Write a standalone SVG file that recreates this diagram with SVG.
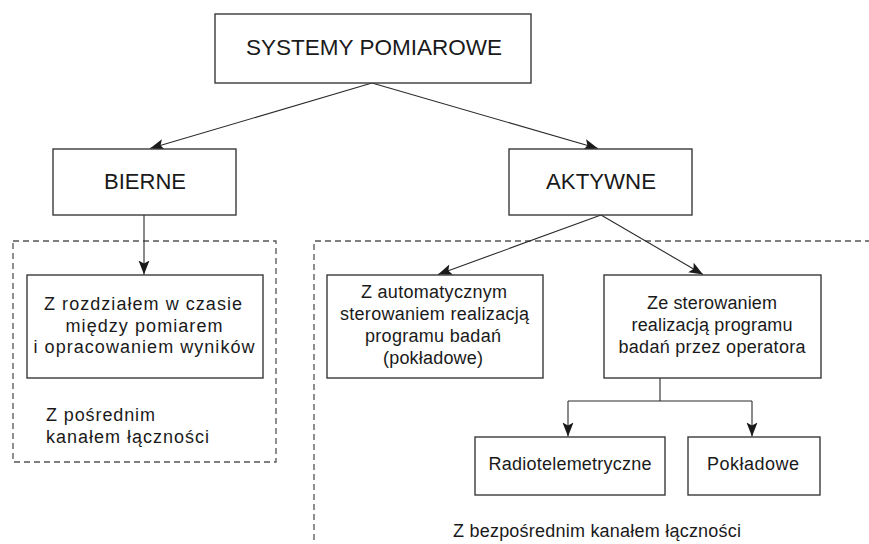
<svg xmlns="http://www.w3.org/2000/svg" width="869" height="544" viewBox="0 0 869 544">
<style>
.box{fill:#fff;stroke:#3a3a3a;stroke-width:1.4}
.grp{fill:none;stroke:#555;stroke-width:1.3;stroke-dasharray:6 4}
.ln{fill:none;stroke:#2a2a2a;stroke-width:1.1}
.t{font-family:"Liberation Sans",Arial,sans-serif;fill:#1a1a1a;text-anchor:middle}
.big{font-size:22px}
.sm{font-size:18px}
.l{text-anchor:start}
</style>
<defs>
<marker id="ah" markerUnits="userSpaceOnUse" markerWidth="15" markerHeight="13" refX="14" refY="6" orient="auto">
<path d="M0,0.5 L14,6 L0,11.5 L3,6 Z" fill="#1a1a1a"/>
</marker>
</defs>
<rect width="869" height="544" fill="#fff"/>
<g id="groups">
<rect class="grp" x="13" y="241" width="263" height="221"/>
<path class="grp" d="M314,560 L314,241 L880,241"/>
</g>
<g id="connectors">
<line class="ln" x1="372" y1="83" x2="150" y2="148.5" marker-end="url(#ah)"/>
<line class="ln" x1="372" y1="83" x2="598" y2="148.5" marker-end="url(#ah)"/>
<line class="ln" x1="144" y1="215" x2="144" y2="274.5" marker-end="url(#ah)"/>
<line class="ln" x1="601" y1="215" x2="438" y2="274.5" marker-end="url(#ah)"/>
<line class="ln" x1="601" y1="215" x2="703" y2="274.5" marker-end="url(#ah)"/>
<path class="ln" d="M660,378 L660,401 M568,401 L752,401"/>
<line class="ln" x1="568" y1="401" x2="568" y2="436.5" marker-end="url(#ah)"/>
<line class="ln" x1="752" y1="401" x2="752" y2="436.5" marker-end="url(#ah)"/>
</g>
<g id="systemy">
<rect class="box" x="215" y="14" width="316" height="69"/>
<text class="t big" x="374" y="55" textLength="256" lengthAdjust="spacingAndGlyphs">SYSTEMY POMIAROWE</text>
</g>
<g id="bierne">
<rect class="box" x="53" y="149" width="183" height="66"/>
<text class="t big" x="145" y="189" textLength="82" lengthAdjust="spacingAndGlyphs">BIERNE</text>
</g>
<g id="aktywne">
<rect class="box" x="509" y="149" width="183" height="66"/>
<text class="t big" x="601" y="189" textLength="110" lengthAdjust="spacingAndGlyphs">AKTYWNE</text>
</g>
<g id="rozdzial">
<rect class="box" x="27" y="275" width="236" height="103"/>
<text class="t sm" x="143" y="310" textLength="198">Z rozdziałem w czasie</text>
<text class="t sm" x="144" y="331.5" textLength="157">między pomiarem</text>
<text class="t sm" x="144" y="353" textLength="221">i opracowaniem wyników</text>
</g>
<g id="posredni">
<text class="t sm l" x="46" y="421" textLength="109">Z pośrednim</text>
<text class="t sm l" x="46" y="443" textLength="163">kanałem łączności</text>
</g>
<g id="automat">
<rect class="box" x="327" y="275" width="216" height="103"/>
<text class="t sm" x="434" y="298" textLength="146">Z automatycznym</text>
<text class="t sm" x="434.5" y="320" textLength="189">sterowaniem realizacją</text>
<text class="t sm" x="433" y="342" textLength="136">programu badań</text>
<text class="t sm" x="433" y="364" textLength="100">(pokładowe)</text>
</g>
<g id="operator">
<rect class="box" x="604" y="275" width="217" height="103"/>
<text class="t sm" x="712" y="309" textLength="130">Ze sterowaniem</text>
<text class="t sm" x="712" y="331" textLength="161">realizacją programu</text>
<text class="t sm" x="712" y="353" textLength="187">badań przez operatora</text>
</g>
<g id="radio">
<rect class="box" x="475" y="437" width="190" height="58"/>
<text class="t sm" x="570" y="470" textLength="163">Radiotelemetryczne</text>
</g>
<g id="pokladowe">
<rect class="box" x="688" y="437" width="132" height="58"/>
<text class="t sm" x="753" y="470" textLength="92">Pokładowe</text>
</g>
<g id="bezposredni">
<text class="t sm" x="597" y="537" textLength="288">Z bezpośrednim kanałem łączności</text>
</g>
</svg>
